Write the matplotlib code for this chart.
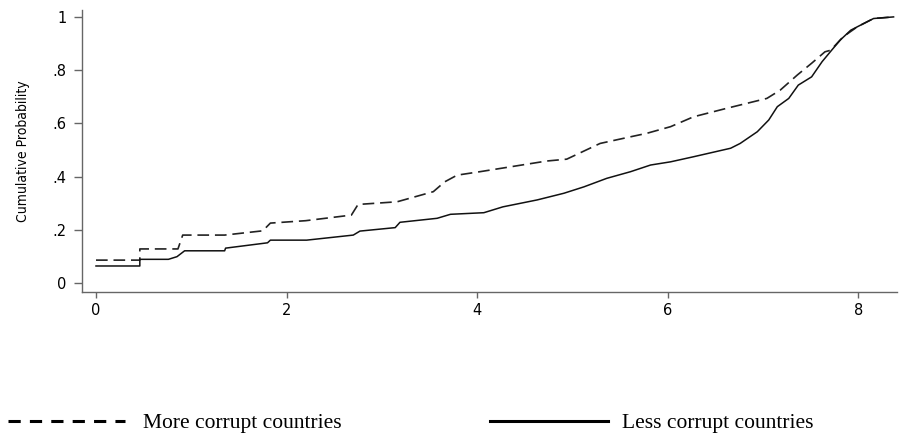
import matplotlib
matplotlib.use("Agg")
import matplotlib.pyplot as plt
from matplotlib.lines import Line2D

more_x = [0.0, 0.46, 0.46, 0.86, 0.91, 1.35, 1.75, 1.83, 2.2, 2.68, 2.75, 3.16,
          3.54, 3.66, 3.79, 4.03, 4.73, 4.94, 5.29, 5.61, 5.78, 6.03, 6.27, 6.62,
          7.04, 7.18, 7.36, 7.51, 7.65, 7.71, 7.84, 7.99, 8.16, 8.37]
more_y = [0.087, 0.087, 0.129, 0.129, 0.181, 0.181, 0.197, 0.226, 0.235, 0.256, 0.296, 0.306,
          0.344, 0.381, 0.406, 0.419, 0.459, 0.466, 0.525, 0.55, 0.563, 0.588, 0.625, 0.657,
          0.694, 0.725, 0.782, 0.826, 0.869, 0.875, 0.925, 0.963, 0.994, 1.0]

less_x = [0.0, 0.46, 0.46, 0.76, 0.85, 0.93, 1.35, 1.36, 1.8, 1.83, 2.21, 2.70,
          2.77, 3.14, 3.19, 3.58, 3.72, 4.07, 4.27, 4.63, 4.91, 5.12, 5.36, 5.61,
          5.82, 6.03, 6.27, 6.66, 6.76, 6.94, 7.06, 7.15, 7.27, 7.37, 7.51, 7.62,
          7.72, 7.81, 7.92, 7.99, 8.16, 8.37]
less_y = [0.065, 0.065, 0.09, 0.09, 0.10, 0.122, 0.122, 0.132, 0.152, 0.162, 0.162, 0.181,
          0.196, 0.209, 0.229, 0.244, 0.259, 0.265, 0.287, 0.313, 0.338, 0.362, 0.394, 0.419,
          0.444, 0.456, 0.475, 0.507, 0.525, 0.569, 0.613, 0.663, 0.694, 0.744, 0.775, 0.832,
          0.875, 0.913, 0.95, 0.963, 0.994, 1.0]

xticks = [0, 2, 4, 6, 8]
yticks = [0, 0.2, 0.4, 0.6, 0.8, 1]
ytick_labels = ["0", ".2", ".4", ".6", ".8", "1"]

fig = plt.figure(figsize=(8.99, 4.40), dpi=100)
ax = fig.add_axes([0.0912, 0.3364, 0.907, 0.6406])

ax.plot(more_x, more_y, color="#222222", lw=1.2, dashes=(7, 3.5))
ax.plot(less_x, less_y, color="#111111", lw=1.1)

ax.set_xlim(-0.147, 8.41)
ax.set_ylim(-0.0326, 1.0255)
ax.set_xticks(xticks)
ax.set_yticks(yticks)
ax.set_yticklabels(ytick_labels)

for s in ["top", "right"]:
    ax.spines[s].set_visible(False)
for s in ["left", "bottom"]:
    ax.spines[s].set_color("#666666")
    ax.spines[s].set_linewidth(1.0)

ax.tick_params(axis="both", colors="#666666", labelcolor="black",
               labelsize=10.5, width=1.0)
ax.tick_params(axis="y", length=6, pad=5)
ax.tick_params(axis="x", length=4, pad=4)
for lab in ax.get_xticklabels() + ax.get_yticklabels():
    lab.set_family("DejaVu Sans")

ax.set_ylabel("Cumulative Probability", family="DejaVu Sans", fontstretch="condensed",
              fontsize=10)
ax.yaxis.set_label_coords(-0.064, 0.5)

# legend drawn below the plot
W, H = 899.0, 440.0
fig.add_artist(Line2D([8 / W, 125 / W], [1 - 421 / H, 1 - 421 / H], color="black",
                      lw=2.2, dashes=(4, 3)))
fig.text(143 / W, 1 - 423 / H, "More corrupt countries", family="Liberation Serif",
         fontsize=15.5, va="center", ha="left")
fig.add_artist(Line2D([490 / W, 608 / W], [1 - 421 / H, 1 - 421 / H], color="black",
                      lw=2.2))
fig.text(622 / W, 1 - 423 / H, "Less corrupt countries", family="Liberation Serif",
         fontsize=15.5, va="center", ha="left")

fig.savefig("out.png", dpi=100)
